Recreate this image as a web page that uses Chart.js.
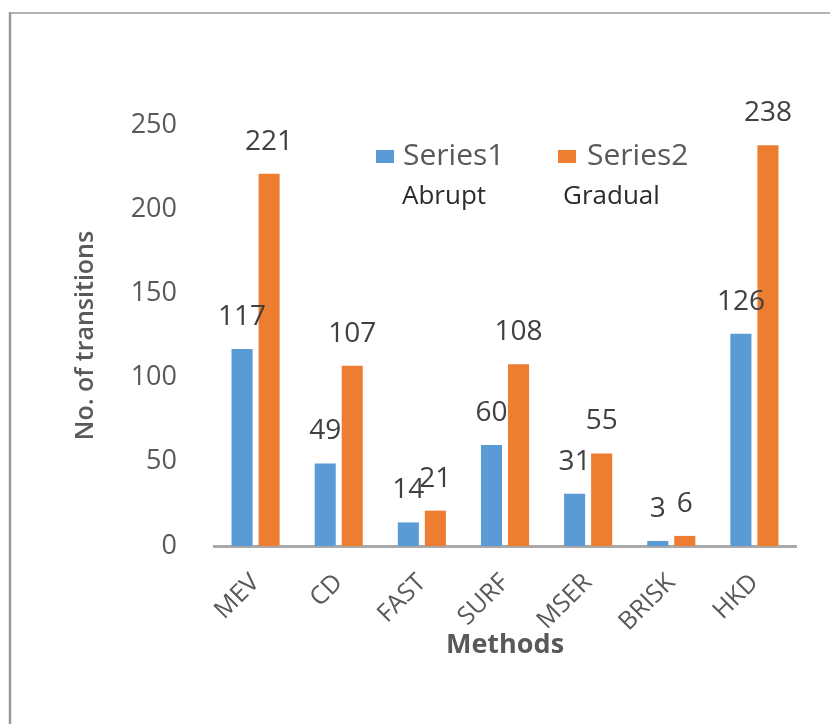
<!DOCTYPE html>
<html>
<head>
<meta charset="utf-8">
<title>No. of transitions by method</title>
<script src="https://cdn.jsdelivr.net/npm/chart.js@4.4.1/dist/chart.umd.min.js"></script>
<style>
  html, body { margin: 0; padding: 0; background: #ffffff; }
  #chart { display: block; }
</style>
</head>
<body>
<canvas id="chart" width="830" height="724"></canvas>
<script>
// Methods on the x axis
const methods = ['MEV', 'CD', 'FAST', 'SURF', 'MSER', 'BRISK', 'HKD'];
// Transition counts per method
const abruptCounts = [117, 49, 14, 60, 31, 3, 126];
const gradualCounts = [221, 107, 21, 108, 55, 6, 238];
// Series names and the caption printed under each legend entry
const seriesNames = ['Series1', 'Series2'];
const seriesCaptions = ['Abrupt', 'Gradual'];
// Value axis ticks
const yTicks = [0, 50, 100, 150, 200, 250];

const BLUE = '#5B9BD5';
const ORANGE = '#ED7D31';
const FONT = '"Open Sans", "Noto Sans", sans-serif';

// White page with the thin outer frame of the figure
const framePlugin = {
  id: 'frame',
  beforeDraw(chart) {
    const ctx = chart.ctx;
    ctx.save();
    ctx.fillStyle = '#ffffff';
    ctx.fillRect(0, 0, chart.width, chart.height);
    ctx.strokeStyle = '#b4b4b4';
    ctx.lineWidth = 2;
    ctx.beginPath();
    ctx.moveTo(10, 13);
    ctx.lineTo(chart.width, 13);
    ctx.stroke();
    ctx.strokeStyle = '#9a9a9a';
    ctx.lineWidth = 2.5;
    ctx.beginPath();
    ctx.moveTo(10, 12);
    ctx.lineTo(10, chart.height);
    ctx.stroke();
    ctx.restore();
  }
};

// Value labels above every bar
const valueLabelPlugin = {
  id: 'valueLabels',
  afterDatasetsDraw(chart) {
    const ctx = chart.ctx;
    ctx.save();
    ctx.font = '28px ' + FONT;
    ctx.fillStyle = '#404040';
    ctx.textAlign = 'center';
    ctx.textBaseline = 'middle';
    chart.data.datasets.forEach((ds, i) => {
      const meta = chart.getDatasetMeta(i);
      meta.data.forEach((bar, j) => {
        ctx.fillText(String(ds.data[j]), bar.x, bar.y - 32);
      });
    });
    ctx.restore();
  }
};

// Legend inside the plot, with a caption line under each entry
const insideLegendPlugin = {
  id: 'insideLegend',
  afterDraw(chart) {
    const ctx = chart.ctx;
    const entries = [
      { box: 376, text: 403, cap: 402 },
      { box: 558, text: 587, cap: 563 }
    ];
    ctx.save();
    chart.data.datasets.forEach((ds, i) => {
      const e = entries[i];
      ctx.fillStyle = ds.backgroundColor;
      ctx.fillRect(e.box, 150, 18, 13);
      ctx.font = '30px ' + FONT;
      ctx.fillStyle = '#595959';
      ctx.textAlign = 'left';
      ctx.textBaseline = 'middle';
      ctx.fillText(ds.label, e.text, 156);
      ctx.font = '26px ' + FONT;
      ctx.fillStyle = '#2b2b2b';
      ctx.fillText(seriesCaptions[i], e.cap, 197);
    });
    ctx.restore();
  }
};

new Chart(document.getElementById('chart'), {
  type: 'bar',
  data: {
    labels: methods,
    datasets: [
      {
        label: seriesNames[0],
        data: abruptCounts,
        backgroundColor: BLUE,
        categoryPercentage: 0.65,
        barPercentage: 0.78
      },
      {
        label: seriesNames[1],
        data: gradualCounts,
        backgroundColor: ORANGE,
        categoryPercentage: 0.65,
        barPercentage: 0.78
      }
    ]
  },
  options: {
    responsive: false,
    devicePixelRatio: 1,
    animation: false,
    layout: { padding: { left: 0, right: 34, top: 125, bottom: 0 } },
    plugins: {
      legend: { display: false },
      tooltip: { enabled: false }
    },
    scales: {
      x: {
        grid: { display: false, drawTicks: false, tickLength: 0 },
        border: { display: true, color: '#a9a9a9', width: 3 },
        ticks: {
          color: '#595959',
          font: { family: FONT, size: 25 },
          minRotation: 45,
          maxRotation: 45,
          padding: 22,
          autoSkip: false
        },
        title: {
          display: true,
          text: 'Methods',
          color: '#595959',
          font: { family: FONT, size: 27, weight: 'bold' },
          padding: { top: 0, bottom: 62 }
        },
        afterFit(scale) { scale.height = 178; }
      },
      y: {
        min: 0,
        max: 250,
        grid: { display: false, drawTicks: false, tickLength: 0 },
        border: { display: false },
        afterBuildTicks(scale) { scale.ticks = yTicks.map(v => ({ value: v })); },
        ticks: {
          color: '#595959',
          font: { family: FONT, size: 27 },
          padding: 37
        },
        title: {
          display: true,
          text: 'No. of transitions',
          color: '#595959',
          font: { family: FONT, size: 25, weight: '600' },
          padding: { top: 71, bottom: 0 }
        },
        afterFit(scale) { scale.width = 214; }
      }
    }
  },
  plugins: [framePlugin, valueLabelPlugin, insideLegendPlugin]
});
</script>
</body>
</html>
